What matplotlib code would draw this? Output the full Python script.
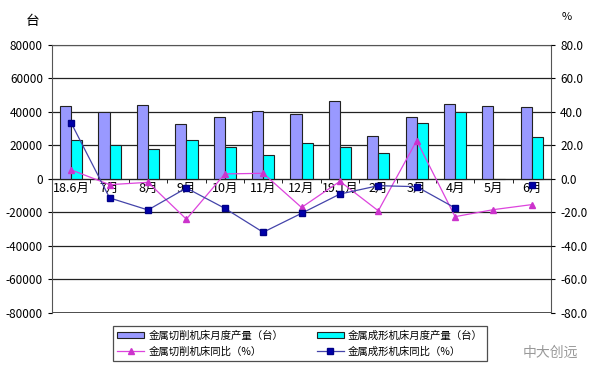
import numpy as np
import matplotlib
matplotlib.use("Agg")
import matplotlib.pyplot as plt

plt.rcParams['font.family'] = ['Noto Sans CJK SC', 'DejaVu Sans']

months = ['18.6月', '7月', '8月', '9月', '10月', '11月', '12月', '19.1月', '2月', '3月', '4月', '5月', '6月']
cutting_output = [43500, 40000, 44000, 32800, 36800, 40800, 38800, 46400, 25500, 37000, 44500, 43500, 43000]
forming_output = [23000, 20500, 18000, 23100, 19100, 14100, 21200, 18900, 15300, 33500, 40000, 0, 25000]
cutting_yoy = [5.4, -3.4, -2.0, -24.0, 3.0, 3.4, -17.0, -1.4, -19.0, 22.9, -22.5, -18.3, -15.3]
forming_yoy = [33.4, -11.3, -18.5, -5.4, -17.5, -31.8, -20.5, -9.0, -4.0, -4.6, -17.3, np.nan, -3.4]

x = np.arange(len(months))
w = 0.29

fig = plt.figure(figsize=(6, 3.81), dpi=100)
ax = fig.add_axes([0.0867, 0.1785, 0.8317, 0.7035])

ax.set_ylim(-80000, 80000)
ax.set_xlim(-0.5, len(months) - 0.5)
ax.set_yticks(np.arange(-80000, 80001, 20000))
ax.set_yticklabels([str(v) for v in range(-80000, 80001, 20000)], fontsize=8.5)
ax.grid(axis='y', color='#222222', linewidth=0.9)
ax.set_axisbelow(True)

b1 = ax.bar(x - w / 2, cutting_output, w, color='#9999FF', edgecolor='#222222', linewidth=0.8,
            label='金属切削机床月度产量（台）')
b2 = ax.bar(x + w / 2, forming_output, w, color='#00FFFF', edgecolor='#222222', linewidth=0.8,
            label='金属成形机床月度产量（台）')

ax.spines['bottom'].set_position(('data', 0))
ax.spines['bottom'].set_color('#222222')
ax.set_xticks(x)
ax.set_xticklabels(months, fontsize=9)
ax.set_xticks(np.arange(-0.5, len(months), 1), minor=True)
ax.tick_params(axis='x', which='major', length=0, pad=2)
ax.tick_params(axis='x', which='minor', length=3, direction='out')
ax.tick_params(axis='y', length=3)
for s in ['left', 'right', 'top']:
    ax.spines[s].set_color('#555555')

ax2 = ax.twinx()
ax2.set_ylim(-80, 80)
ax2.set_yticks(np.arange(-80, 81, 20))
ax2.set_yticklabels(['%.1f' % v for v in range(-80, 81, 20)], fontsize=8.5)
ax2.tick_params(axis='y', length=3)
l1, = ax2.plot(x, cutting_yoy, color='#DD44DD', linewidth=0.9, marker='^', markersize=5,
               markerfacecolor='#CC33CC', markeredgecolor='#CC33CC', label='金属切削机床同比（%）')
l2, = ax2.plot(x, forming_yoy, color='#4444AA', linewidth=0.9, marker='s', markersize=5,
               markerfacecolor='#0000AA', markeredgecolor='#000088', label='金属成形机床同比（%）')
for s in ['left', 'right', 'top', 'bottom']:
    ax2.spines[s].set_visible(False)

# frame bottom line
ax.axhline(-80000, color='#333333', linewidth=1.2)

fig.text(0.055, 0.945, '台', fontsize=10, ha='center', va='center')
fig.text(0.945, 0.955, '%', fontsize=8, ha='center', va='center')

leg = fig.legend(handles=[b1, l1, b2, l2], loc='center', bbox_to_anchor=(0.5, 0.0985),
                 ncol=2, fontsize=7.5, frameon=True, fancybox=False, edgecolor='#222222',
                 handlelength=2.6, handleheight=0.5, handletextpad=0.4, columnspacing=3.2,
                 labelspacing=0.55, borderpad=0.45)
leg.get_frame().set_linewidth(0.9)

fig.text(0.918, 0.073, '中大创远', fontsize=10, color='#999999', ha='center', va='center')

fig.savefig('out.png', dpi=100)
